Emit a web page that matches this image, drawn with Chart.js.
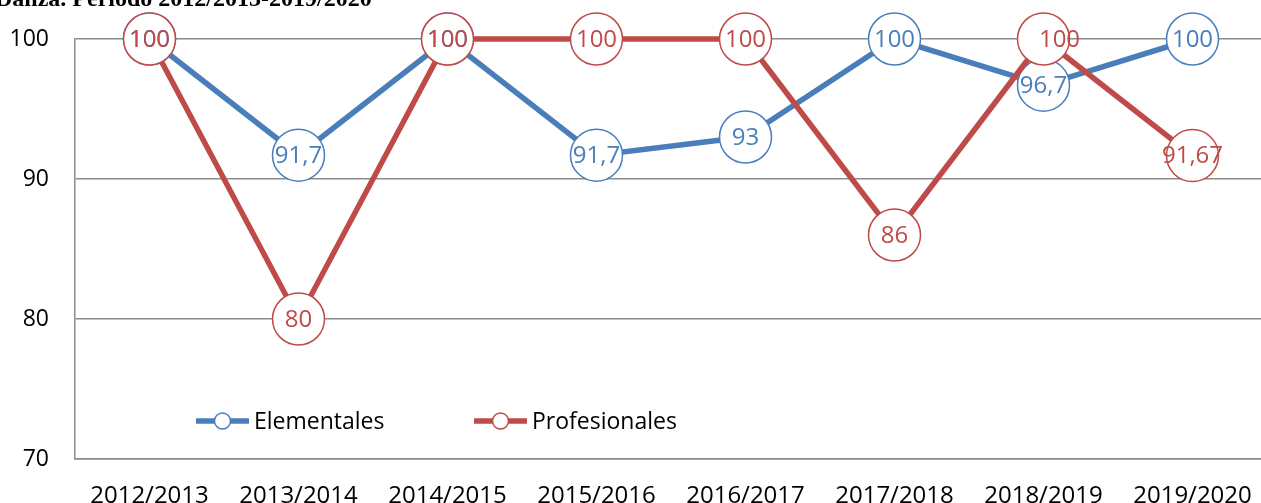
<!DOCTYPE html>
<html>
<head>
<meta charset="utf-8">
<script src="https://cdn.jsdelivr.net/npm/chart.js@4"></script>
<style>
  html, body { margin: 0; padding: 0; overflow: hidden; background: #ffffff; }
  #wrap { width: 1268px; height: 503px; }
</style>
</head>
<body>
<div id="wrap"><canvas id="danzachart" width="1268" height="503"></canvas></div>
<script>
const categories = ["2012/2013", "2013/2014", "2014/2015", "2015/2016", "2016/2017", "2017/2018", "2018/2019", "2019/2020"];
const elementales = [100, 91.7, 100, 91.7, 93, 100, 96.7, 100];
const profesionales = [100, 80, 100, 100, 100, 86, 100, 91.67];
const yTicks = [70, 80, 90, 100];

const blue = "#4a7ebb";
const red = "#be4b48";
const gridColor = "#8c8c8c";
const font = "'Open Sans', 'Noto Sans', sans-serif";

// value labels inside the circles + legend + cropped title
const extras = {
    id: "extras",
    afterDatasetsDraw(chart) {
        const ctx = chart.ctx;
        ctx.save();
        ctx.font = "24px " + font;
        ctx.textAlign = "center";
        ctx.textBaseline = "middle";
        // blue first, red on top
        [1, 0].forEach(function(di) {
            const ds = chart.data.datasets[di];
            const meta = chart.getDatasetMeta(di);
            ctx.fillStyle = ds.borderColor;
            meta.data.forEach(function(pt, i) {
                let dx = 0;
                if (di === 0 && i === 6) dx = 16;
                const txt = ds.data[i].toLocaleString("es-ES", { maximumFractionDigits: 2 });
                ctx.fillText(txt, pt.x + dx, pt.y + 1);
            });
        });

        // legend
        const items = [
            { label: chart.data.datasets[1].label, color: blue, x: 196 },
            { label: chart.data.datasets[0].label, color: red, x: 474 }
        ];
        const ly = 421;
        items.forEach(function(it) {
            ctx.strokeStyle = it.color;
            ctx.lineWidth = 5.5;
            ctx.beginPath();
            ctx.moveTo(it.x, ly);
            ctx.lineTo(it.x + 53, ly);
            ctx.stroke();
            ctx.beginPath();
            ctx.arc(it.x + 26.5, ly, 8, 0, Math.PI * 2);
            ctx.fillStyle = "#ffffff";
            ctx.fill();
            ctx.lineWidth = 1.5;
            ctx.stroke();
            ctx.fillStyle = "#000000";
            ctx.textAlign = "left";
            ctx.font = "23px " + font;
            ctx.fillText(it.label, it.x + 58, ly + 1);
        });

        // title, cut off by the top of the image
        ctx.font = "bold 24px 'Liberation Serif', 'DejaVu Serif', serif";
        ctx.textAlign = "left";
        ctx.textBaseline = "alphabetic";
        ctx.fillStyle = "#000000";
        ctx.fillText("Danza. Período 2012/2013-2019/2020", -5, 6);
        ctx.restore();
    }
};

new Chart(document.getElementById("danzachart"), {
    type: "line",
    data: {
        labels: categories,
        datasets: [
            {
                label: "Profesionales",
                data: profesionales,
                borderColor: red,
                borderWidth: 5.5,
                pointRadius: 26,
                pointHoverRadius: 26,
                pointBackgroundColor: "#ffffff",
                pointBorderColor: red,
                pointBorderWidth: 1.5,
                tension: 0,
                clip: false
            },
            {
                label: "Elementales",
                data: elementales,
                borderColor: blue,
                borderWidth: 5.5,
                pointRadius: 26,
                pointHoverRadius: 26,
                pointBackgroundColor: "#ffffff",
                pointBorderColor: blue,
                pointBorderWidth: 1.5,
                tension: 0,
                clip: false
            }
        ]
    },
    options: {
        responsive: false,
        animation: false,
        events: [],
        layout: {
            autoPadding: false,
            padding: { top: 39, right: 1, left: 0, bottom: 0 }
        },
        plugins: {
            legend: { display: false },
            tooltip: { enabled: false },
            title: { display: false }
        },
        scales: {
            x: {
                offset: true,
                grid: { display: false, drawTicks: false },
                border: { display: true, color: gridColor, width: 1.5 },
                ticks: {
                    color: "#000000",
                    font: { family: font, size: 24 },
                    padding: 23,
                    maxRotation: 0,
                    autoSkip: false
                },
                afterFit: function(scale) {
                    scale.height = 44;
                    scale.paddingLeft = 0;
                    scale.paddingRight = 0;
                }
            },
            y: {
                min: 70,
                max: 100,
                afterBuildTicks: function(scale) {
                    scale.ticks = yTicks.map(function(v) { return { value: v }; });
                },
                grid: { color: gridColor, lineWidth: 1.5, drawTicks: false },
                border: { display: true, color: gridColor, width: 1.5 },
                ticks: {
                    color: "#000000",
                    font: { family: font, size: 23 },
                    padding: 26
                },
                afterFit: function(scale) {
                    scale.width = 75;
                    scale.paddingTop = 0;
                    scale.paddingBottom = 0;
                }
            }
        }
    },
    plugins: [extras]
});
</script>
</body>
</html>
